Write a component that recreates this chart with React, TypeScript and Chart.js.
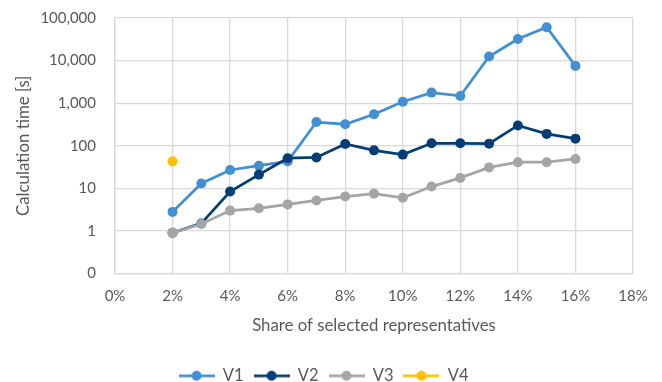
import React, { useEffect, useRef } from "react";
import { Chart, registerables } from "chart.js";

Chart.register(...registerables);

// Share of selected representatives, in percent
const shares = [2, 3, 4, 5, 6, 7, 8, 9, 10, 11, 12, 13, 14, 15, 16];

// Calculation time in seconds per variant
const v1 = [2.8, 13, 27, 34, 43, 360, 320, 550, 1080, 1770, 1480, 12500, 32000, 60500, 7500];
const v2 = [0.9, 1.5, 8.4, 21, 51, 53, 110, 78, 62, 114, 114, 112, 300, 190, 147];
const v3 = [0.9, 1.45, 3.0, 3.4, 4.2, 5.2, 6.4, 7.5, 6.0, 11, 17.6, 31, 41, 41, 49];
const v4Shares = [2];
const v4 = [43];

const seriesNames = ["V1", "V2", "V3", "V4"];
const seriesColors = ["#4190D3", "#023E74", "#A5A5A5", "#FFC000"];

const yTicks = [0.1, 1, 10, 100, 1000, 10000, 100000];
const xMin = 0;
const xMax = 18;
const xStep = 2;

const FONT = "Lato, 'Open Sans', sans-serif";
const TEXT = "#595959";
const GRID = "#D9D9D9";

const toPoints = (xs: number[], ys: number[]) => xs.map((x, i) => ({ x, y: ys[i] }));

// Legend marker: short line with a dot in the middle
function makeMarker(color: string): HTMLCanvasElement {
  const c = document.createElement("canvas");
  c.width = 36;
  c.height = 12;
  const ctx = c.getContext("2d")!;
  ctx.strokeStyle = color;
  ctx.lineWidth = 2.75;
  ctx.beginPath();
  ctx.moveTo(0, 6);
  ctx.lineTo(36, 6);
  ctx.stroke();
  ctx.fillStyle = color;
  ctx.beginPath();
  ctx.arc(18, 6, 5, 0, Math.PI * 2);
  ctx.fill();
  return c;
}

export default function App() {
  const canvasRef = useRef<HTMLCanvasElement | null>(null);

  useEffect(() => {
    if (!canvasRef.current) return;
    const markers = seriesColors.map(makeMarker);
    const seriesData = [
      toPoints(shares, v1),
      toPoints(shares, v2),
      toPoints(shares, v3),
      toPoints(v4Shares, v4),
    ];

    const chart = new Chart(canvasRef.current, {
      type: "line",
      data: {
        datasets: seriesData.map((d, i) => ({
          label: seriesNames[i],
          data: d,
          borderColor: seriesColors[i],
          backgroundColor: seriesColors[i],
          pointBackgroundColor: seriesColors[i],
          pointBorderColor: seriesColors[i],
          borderWidth: 2.75,
          pointRadius: 5,
          pointBorderWidth: 0,
          tension: 0,
          order: seriesNames.length - i,
        })),
      },
      options: {
        responsive: false,
        animation: false,
        layout: { padding: { left: 14, right: 29, top: 18, bottom: -12 } },
        plugins: {
          tooltip: { enabled: false },
          legend: {
            position: "bottom",
            labels: {
              usePointStyle: true,
              pointStyleWidth: 36,
              padding: 10,
              color: TEXT,
              font: { family: FONT, size: 16.5, lineHeight: 1 },
              sort: (a: any, b: any) => a.datasetIndex - b.datasetIndex,
              generateLabels: (ch: any) =>
                ch.data.datasets.map((ds: any, i: number) => ({
                  text: ds.label,
                  fillStyle: ds.backgroundColor,
                  strokeStyle: ds.borderColor,
                  lineWidth: 0,
                  pointStyle: markers[i],
                  hidden: false,
                  datasetIndex: i,
                  fontColor: TEXT,
                })),
            },
          },
        },
        scales: {
          x: {
            type: "linear",
            min: xMin,
            max: xMax,
            ticks: {
              stepSize: xStep,
              autoSkip: false,
              maxRotation: 0,
              padding: 0,
              color: TEXT,
              font: { family: FONT, size: 15 },
              callback: (v: any) => `${v}%`,
            },
            grid: { color: GRID, drawTicks: true, tickLength: 14, tickColor: "rgba(0,0,0,0)", lineWidth: 1.3 },
            border: { color: GRID, width: 1.3 },
            title: {
              display: true,
              text: "Share of selected representatives",
              color: TEXT,
              font: { family: FONT, size: 16.8 },
              padding: { top: 0, bottom: 22 },
            },
            afterFit: (s: any) => {
              s.height = 84;
            },
          },
          y: {
            type: "logarithmic",
            min: yTicks[0],
            max: yTicks[yTicks.length - 1],
            afterBuildTicks: (s: any) => {
              s.ticks = yTicks.map((v) => ({ value: v }));
            },
            ticks: {
              padding: 0,
              color: TEXT,
              font: { family: FONT, size: 15 },
              callback: (v: any) => (Number(v) < 1 ? "0" : Number(v).toLocaleString("en-US")),
            },
            grid: { color: GRID, drawTicks: true, tickLength: 19, tickColor: "rgba(0,0,0,0)", lineWidth: 1.3 },
            border: { color: GRID, width: 1.3 },
            title: {
              display: true,
              text: "Calculation time [s]",
              color: TEXT,
              font: { family: FONT, size: 16.8 },
              padding: 0,
            },
            afterFit: (s: any) => {
              s.width = 101;
            },
          },
        },
      },
    } as any);

    return () => chart.destroy();
  }, []);

  return (
    <div style={{ position: "fixed", left: 0, top: 0, width: 662, height: 382, background: "#fff" }}>
      <canvas ref={canvasRef} width={662} height={382} />
    </div>
  );
}
